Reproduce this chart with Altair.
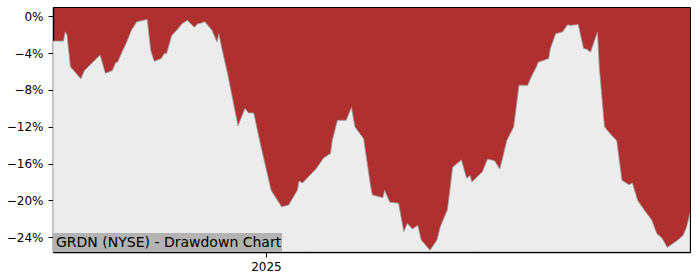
import altair as alt
import pandas as pd

dates = [
    "2024-09-01", "2024-09-07", "2024-09-08", "2024-09-09", "2024-09-11", "2024-09-17",
    "2024-09-19", "2024-09-27", "2024-09-28", "2024-10-01", "2024-10-05", "2024-10-07",
    "2024-10-08", "2024-10-11", "2024-10-13", "2024-10-16", "2024-10-19", "2024-10-25",
    "2024-10-27", "2024-10-29", "2024-11-02", "2024-11-04", "2024-11-05", "2024-11-08",
    "2024-11-11", "2024-11-14", "2024-11-17", "2024-11-21", "2024-11-23", "2024-11-24",
    "2024-11-27", "2024-12-01", "2024-12-04", "2024-12-05", "2024-12-07", "2024-12-10",
    "2024-12-16", "2024-12-20", "2024-12-22", "2024-12-25", "2024-12-29", "2025-01-04",
    "2025-01-10", "2025-01-14", "2025-01-19", "2025-01-20", "2025-01-22", "2025-01-30",
    "2025-02-03", "2025-02-07", "2025-02-08", "2025-02-11", "2025-02-16", "2025-02-19",
    "2025-02-21", "2025-02-26", "2025-03-02", "2025-03-03", "2025-03-09", "2025-03-10",
    "2025-03-13", "2025-03-18", "2025-03-21", "2025-03-23", "2025-03-26", "2025-03-29",
    "2025-03-31", "2025-04-05", "2025-04-09", "2025-04-11", "2025-04-15", "2025-04-18",
    "2025-04-23", "2025-04-26", "2025-04-28", "2025-04-29", "2025-05-05", "2025-05-08",
    "2025-05-12", "2025-05-15", "2025-05-17", "2025-05-19", "2025-05-23", "2025-05-26",
    "2025-05-31", "2025-06-02", "2025-06-05", "2025-06-06", "2025-06-12", "2025-06-13",
    "2025-06-16", "2025-06-20", "2025-06-23", "2025-06-24", "2025-06-29", "2025-07-02",
    "2025-07-04", "2025-07-06", "2025-07-10", "2025-07-11", "2025-07-14", "2025-07-17",
    "2025-07-21", "2025-07-24", "2025-07-28", "2025-07-30", "2025-08-02", "2025-08-06",
    "2025-08-10", "2025-08-13", "2025-08-16", "2025-08-19", "2025-08-25", "2025-08-28",
    "2025-08-30", "2025-09-01",
]
drawdown = [
    -2.7, -2.7, -1.7, -2.0, -5.5, -6.8,
    -5.9, -4.4, -4.2, -6.2, -5.9, -5.0,
    -5.0, -3.7, -2.9, -1.5, -0.6, -0.35,
    -3.7, -4.9, -4.6, -4.0, -4.1, -2.1,
    -1.5, -0.8, -0.45, -1.2, -0.8, -0.8,
    -0.6, -1.5, -2.8, -1.9, -3.7, -6.2,
    -11.9, -10.0, -10.5, -10.5, -14.0, -18.9,
    -20.7, -20.5, -18.9, -17.9, -18.1, -16.5,
    -15.4, -14.9, -13.5, -11.3, -11.3, -9.9,
    -12.0, -13.3, -18.5, -19.4, -19.7, -18.9,
    -20.2, -20.3, -23.4, -22.5, -23.1, -22.7,
    -24.3, -25.4, -24.3, -22.8, -21.0, -16.4,
    -15.6, -17.6, -17.3, -18.0, -16.9, -15.5,
    -15.7, -16.6, -15.1, -13.5, -12.0, -7.5,
    -7.5, -6.6, -5.5, -5.0, -4.6, -3.5,
    -1.9, -1.7, -0.9, -1.0, -0.9, -3.5,
    -3.6, -3.9, -1.7, -5.5, -12.0, -12.7,
    -13.5, -17.8, -18.3, -18.1, -20.0, -21.1,
    -22.1, -23.6, -24.1, -25.1, -24.3, -23.8,
    -22.9, -21.4,
]
y_ticks = [0, -4, -8, -12, -16, -20, -24]
y_min, y_max = -25.6, 1.0
title_text = "GRDN (NYSE) - Drawdown Chart"

df = pd.DataFrame({"date": dates, "dd": drawdown})

W, H = 637, 245
FONT = "DejaVu Sans"

x_enc = alt.X(
    "date:T",
    scale=alt.Scale(type="utc", domain=[alt.DateTime(year=2024, month=9, date=1, utc=True),
                                        alt.DateTime(year=2025, month=9, date=1, utc=True)]),
    axis=alt.Axis(
        values=[alt.DateTime(year=2025, month=1, date=1, utc=True)],
        format="%Y", title=None, grid=False, labelFont=FONT, labelFontSize=12,
        labelColor="black", tickColor="black", domainColor="black", tickSize=5,
        labelPadding=4, domainWidth=1.5,
    ),
)
y_scale = alt.Scale(domain=[y_min, y_max], nice=False, zero=False)

area = alt.Chart(df).mark_area(
    color="#ececec", stroke="#9a9a9a", strokeWidth=0.8, clip=True, interpolate="linear"
).encode(
    x=x_enc,
    y=alt.Y("dd:Q", scale=y_scale, axis=alt.Axis(
        values=y_ticks,
        labelExpr="replace(format(datum.value, 'd'), '-', '\u2212') + '%'",
        title=None, grid=False,
        labelFont=FONT, labelFontSize=12, labelColor="black", tickColor="black",
        domainColor="black", tickSize=5, labelPadding=5, domainWidth=1.5,
    )),
    y2=alt.datum(y_min),
)

box = alt.Chart(pd.DataFrame({"t": [title_text]})).mark_rect(color="#b3b3b3").encode(
    x=alt.value(0), x2=alt.value(229), y=alt.value(226), y2=alt.value(H)
)
label = alt.Chart(pd.DataFrame({"t": [title_text]})).mark_text(
    align="left", baseline="middle", font=FONT, fontSize=14, color="black"
).encode(x=alt.value(3), y=alt.value(235.5), text="t:N")

chart = alt.layer(area, box, label).properties(
    width=W, height=H,
    padding={"left": 53, "top": 7, "right": 10, "bottom": 28},
    autosize=alt.AutoSizeParams(type="none"),
).configure_view(fill="#b03030", stroke="black", strokeWidth=1)

chart.save("out.html", embed_options={"renderer": "svg", "actions": False})
